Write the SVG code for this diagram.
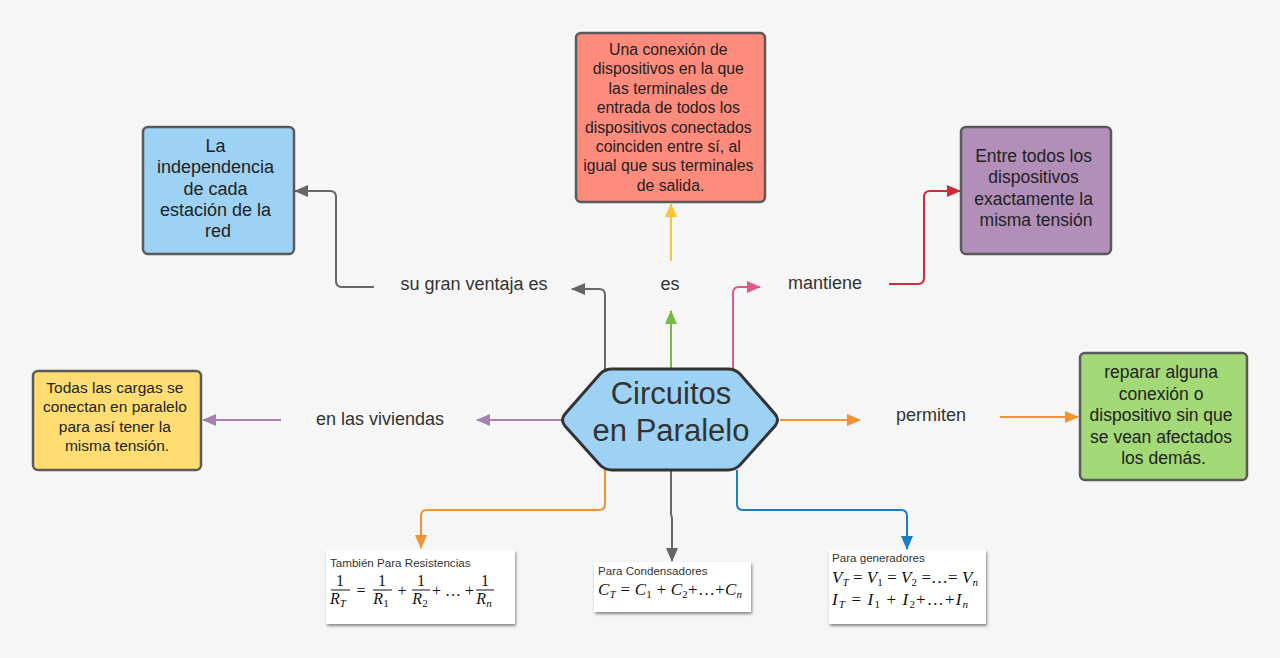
<svg xmlns="http://www.w3.org/2000/svg" width="1280" height="658" viewBox="0 0 1280 658">
<style>
.lbl{font-family:"Liberation Sans",Arial,sans-serif;font-size:18px;fill:#333;text-anchor:middle}
.box{stroke:#5a5a5a;stroke-width:2.5}
.bt{font-family:"Liberation Sans",Arial,sans-serif;fill:#222;text-anchor:middle}
.con{fill:none;stroke-width:2}
.cap{font-family:"Liberation Sans",Arial,sans-serif;font-size:11.6px;fill:#333}
.fm{font-family:"Liberation Serif","Times New Roman",serif;font-size:17px;fill:#111}
.fi{font-style:italic}
.sb{font-size:11px}
.fbox{fill:#fff}
</style>
<defs>
<filter id="sh" x="-10%" y="-10%" width="125%" height="135%">
<feDropShadow dx="1" dy="2" stdDeviation="1.8" flood-color="#000" flood-opacity="0.45"/>
</filter>
<marker id="aGray" markerUnits="userSpaceOnUse" markerWidth="14" markerHeight="12" refX="13" refY="6" orient="auto"><path d="M0,0 L14,6 L0,12 z" fill="#666"/></marker>
<marker id="aGreen" markerUnits="userSpaceOnUse" markerWidth="14" markerHeight="12" refX="13" refY="6" orient="auto"><path d="M0,0 L14,6 L0,12 z" fill="#7ab648"/></marker>
<marker id="aYellow" markerUnits="userSpaceOnUse" markerWidth="14" markerHeight="12" refX="13" refY="6" orient="auto"><path d="M0,0 L14,6 L0,12 z" fill="#fcc438"/></marker>
<marker id="aPink" markerUnits="userSpaceOnUse" markerWidth="14" markerHeight="12" refX="13" refY="6" orient="auto"><path d="M0,0 L14,6 L0,12 z" fill="#e2588a"/></marker>
<marker id="aRed" markerUnits="userSpaceOnUse" markerWidth="14" markerHeight="12" refX="13" refY="6" orient="auto"><path d="M0,0 L14,6 L0,12 z" fill="#c92d39"/></marker>
<marker id="aPurple" markerUnits="userSpaceOnUse" markerWidth="14" markerHeight="12" refX="13" refY="6" orient="auto"><path d="M0,0 L14,6 L0,12 z" fill="#a97fb2"/></marker>
<marker id="aOrange" markerUnits="userSpaceOnUse" markerWidth="14" markerHeight="12" refX="13" refY="6" orient="auto"><path d="M0,0 L14,6 L0,12 z" fill="#f09330"/></marker>
<marker id="aBlue" markerUnits="userSpaceOnUse" markerWidth="14" markerHeight="12" refX="13" refY="6" orient="auto"><path d="M0,0 L14,6 L0,12 z" fill="#1d7dc2"/></marker>
</defs>
<rect width="1280" height="658" fill="#f6f6f6"/>

<g id="connectors">
<path class="con" stroke="#666" d="M374,287 L342,287 Q336,287 336,281 L336,197 Q336,191 330,191 L295,191" marker-end="url(#aGray)"/>
<path class="con" stroke="#666" d="M605,369 L605,295 Q605,289 599,289 L572,289" marker-end="url(#aGray)"/>
<path class="con" stroke="#7ab648" d="M671,369 L671,311" marker-end="url(#aGreen)"/>
<path class="con" stroke="#fcc438" d="M671,261 L671,204" marker-end="url(#aYellow)"/>
<path class="con" stroke="#e2588a" d="M733,369 L733,293 Q733,287 739,287 L760,287" marker-end="url(#aPink)"/>
<path class="con" stroke="#c92d39" d="M889,284 L918,284 Q924,284 924,278 L924,197 Q924,191 930,191 L960,191" marker-end="url(#aRed)"/>
<path class="con" stroke="#a97fb2" d="M562,420 L477,420" marker-end="url(#aPurple)"/>
<path class="con" stroke="#a97fb2" d="M281,420 L203,420" marker-end="url(#aPurple)"/>
<path class="con" stroke="#f09330" d="M780,420 L860,420" marker-end="url(#aOrange)"/>
<path class="con" stroke="#f09330" d="M1000,417 L1078,417" marker-end="url(#aOrange)"/>
<path class="con" stroke="#f09330" d="M605,470 L605,504 Q605,510 599,510 L427,510 Q421,510 421,516 L421,548" marker-end="url(#aOrange)"/>
<path class="con" stroke="#666" d="M671,470 L671,514 L672,518 L672,561" marker-end="url(#aGray)"/>
<path class="con" stroke="#1d7dc2" d="M737,470 L737,504 Q737,510 743,510 L901,510 Q907,510 907,516 L907,549" marker-end="url(#aBlue)"/>
</g>

<g id="n-center">
<path d="M612,369 L728,369 Q735,369 740,374 L775,414 Q780,420 775,426 L740,465 Q735,470 728,470 L612,470 Q605,470 600,465 L565,426 Q560,420 565,414 L600,374 Q605,369 612,369 Z" fill="#9dd2f4" stroke="#333" stroke-width="3"/>
<text class="lbl" x="671" y="404" style="font-size:31px">Circuitos</text>
<text class="lbl" x="671" y="441" style="font-size:31px">en Paralelo</text>
</g>

<g id="n-independencia">
<rect class="box" x="143" y="127" width="151" height="127" rx="5" fill="#9dd2f4"/>
<text class="bt" font-size="18">
<tspan x="218" y="152">La</tspan>
<tspan x="218" y="173">independencia</tspan>
<tspan x="218" y="195">de cada</tspan>
<tspan x="218" y="216">estación de la</tspan>
<tspan x="218" y="237">red</tspan>
</text>
</g>

<g id="l-ventaja"><text class="lbl" x="474" y="290">su gran ventaja es</text></g>
<g id="l-es"><text class="lbl" x="670" y="290">es</text></g>
<g id="l-mantiene"><text class="lbl" x="825" y="289">mantiene</text></g>
<g id="l-viviendas"><text class="lbl" x="380" y="425">en las viviendas</text></g>
<g id="l-permiten"><text class="lbl" x="931" y="421">permiten</text></g>

<g id="n-definicion">
<rect class="box" x="576" y="33" width="189" height="169" rx="5" fill="#ff8b7c"/>
<text class="bt" font-size="15.8">
<tspan x="670.5" y="55">Una conexión de</tspan>
<tspan x="670.5" y="74.4">dispositivos en la que</tspan>
<tspan x="670.5" y="93.8">las terminales de</tspan>
<tspan x="670.5" y="113.2">entrada de todos los</tspan>
<tspan x="670.5" y="132.6">dispositivos conectados</tspan>
<tspan x="670.5" y="152">coinciden entre sí, al</tspan>
<tspan x="670.5" y="171.4">igual que sus terminales</tspan>
<tspan x="670.5" y="190.8">de salida.</tspan>
</text>
</g>

<g id="n-tension">
<rect class="box" x="961" y="127" width="150" height="127" rx="5" fill="#b18fb8"/>
<text class="bt" font-size="17.5">
<tspan x="1036" y="162">Entre todos los</tspan>
<tspan x="1036" y="183.3">dispositivos</tspan>
<tspan x="1036" y="204.6">exactamente la</tspan>
<tspan x="1036" y="226">misma tensión</tspan>
</text>
</g>

<g id="n-cargas">
<rect class="box" x="33" y="371" width="168" height="99" rx="5" fill="#ffdd72"/>
<text class="bt" font-size="15.5">
<tspan x="117" y="393">Todas las cargas se</tspan>
<tspan x="117" y="412.3">conectan en paralelo</tspan>
<tspan x="117" y="431.7">para así tener la</tspan>
<tspan x="117" y="451">misma tensión.</tspan>
</text>
</g>

<g id="n-reparar">
<rect class="box" x="1080" y="353" width="167" height="127" rx="5" fill="#a3d977"/>
<text class="bt" font-size="17.5">
<tspan x="1163.5" y="378">reparar alguna</tspan>
<tspan x="1163.5" y="399.5">conexión o</tspan>
<tspan x="1163.5" y="421">dispositivo sin que</tspan>
<tspan x="1163.5" y="442.5">se vean afectados</tspan>
<tspan x="1163.5" y="464">los demás.</tspan>
</text>
</g>

<g id="n-resistencias">
<rect class="fbox" x="326" y="550" width="189" height="74" filter="url(#sh)"/>
<text class="cap" x="330" y="567">También Para Resistencias</text>
<g class="fm">
<text x="340" y="586" text-anchor="middle" font-size="16">1</text>
<line x1="331" y1="590" x2="350" y2="590" stroke="#111" stroke-width="1"/>
<text x="338" y="604" text-anchor="middle" font-size="16"><tspan class="fi">R</tspan><tspan class="fi sb" dy="3">T</tspan></text>
<text x="361" y="596" text-anchor="middle" font-size="16">=</text>
<text x="382" y="586" text-anchor="middle" font-size="16">1</text>
<line x1="373" y1="590" x2="392" y2="590" stroke="#111" stroke-width="1"/>
<text x="381" y="604" text-anchor="middle" font-size="16"><tspan class="fi">R</tspan><tspan class="sb" dy="3">1</tspan></text>
<text x="402" y="596" text-anchor="middle" font-size="16">+</text>
<text x="421" y="586" text-anchor="middle" font-size="16">1</text>
<line x1="412" y1="590" x2="430" y2="590" stroke="#111" stroke-width="1"/>
<text x="420" y="604" text-anchor="middle" font-size="16"><tspan class="fi">R</tspan><tspan class="sb" dy="3">2</tspan></text>
<text x="453" y="596" text-anchor="middle" font-size="16" textLength="42">+…+</text>
<text x="485" y="586" text-anchor="middle" font-size="16">1</text>
<line x1="476" y1="590" x2="494" y2="590" stroke="#111" stroke-width="1"/>
<text x="484" y="604" text-anchor="middle" font-size="16"><tspan class="fi">R</tspan><tspan class="fi sb" dy="3">n</tspan></text>
</g>
</g>

<g id="n-condensadores">
<rect class="fbox" x="594" y="562" width="157" height="50" filter="url(#sh)"/>
<text class="cap" x="598" y="575">Para Condensadores</text>
<text class="fm" x="598" y="595" textLength="144" lengthAdjust="spacing"><tspan class="fi">C</tspan><tspan class="fi sb" dy="3">T</tspan><tspan dy="-3"> = </tspan><tspan class="fi">C</tspan><tspan class="sb" dy="3">1</tspan><tspan dy="-3"> + </tspan><tspan class="fi">C</tspan><tspan class="sb" dy="3">2</tspan><tspan dy="-3">+…+</tspan><tspan class="fi">C</tspan><tspan class="fi sb" dy="3">n</tspan></text>
</g>

<g id="n-generadores">
<rect class="fbox" x="829" y="550" width="157" height="74" filter="url(#sh)"/>
<text class="cap" x="832" y="562">Para generadores</text>
<text class="fm" x="832" y="583" textLength="146" lengthAdjust="spacing"><tspan class="fi">V</tspan><tspan class="fi sb" dy="3">T</tspan><tspan dy="-3"> = </tspan><tspan class="fi">V</tspan><tspan class="sb" dy="3">1</tspan><tspan dy="-3"> = </tspan><tspan class="fi">V</tspan><tspan class="sb" dy="3">2</tspan><tspan dy="-3"> =…= </tspan><tspan class="fi">V</tspan><tspan class="fi sb" dy="3">n</tspan></text>
<text class="fm" x="832" y="605" textLength="136" lengthAdjust="spacing"><tspan class="fi">I</tspan><tspan class="fi sb" dy="3">T</tspan><tspan dy="-3"> = </tspan><tspan class="fi">I</tspan><tspan class="sb" dy="3">1</tspan><tspan dy="-3"> + </tspan><tspan class="fi">I</tspan><tspan class="sb" dy="3">2</tspan><tspan dy="-3">+…+</tspan><tspan class="fi">I</tspan><tspan class="fi sb" dy="3">n</tspan></text>
</g>
</svg>
